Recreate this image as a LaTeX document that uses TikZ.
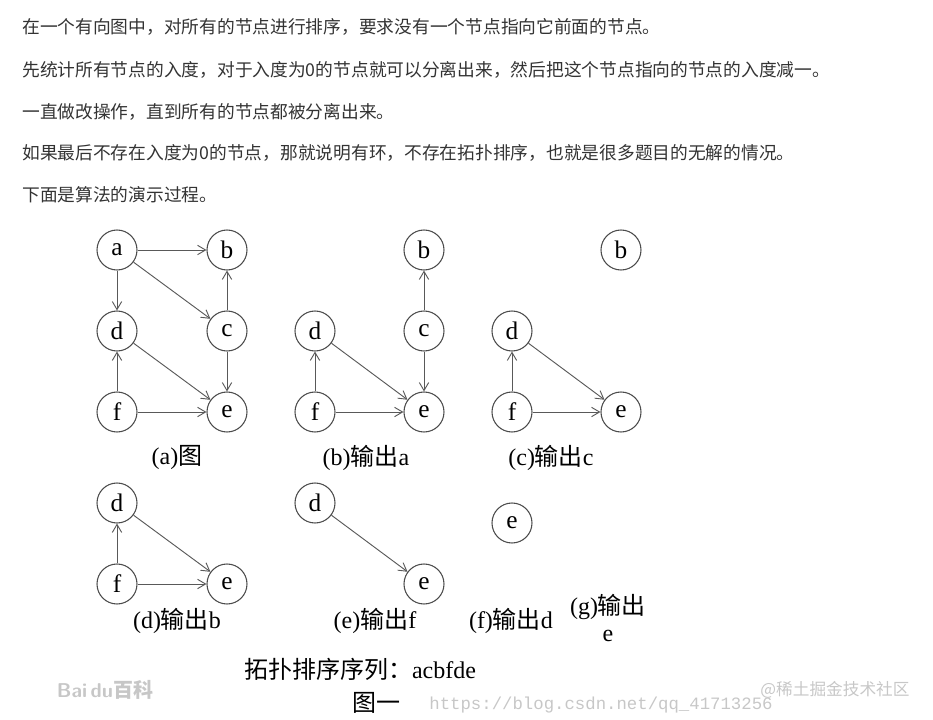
\documentclass[tikz,border=0pt]{standalone}
\usepackage{fontspec}
\setmainfont{Liberation Serif}
\setmonofont{Liberation Mono}
\newfontfamily\cjk{Noto Sans CJK SC}
\usetikzlibrary{arrows.meta}

\begin{document}
\begin{tikzpicture}[x=0.75pt, y=-0.75pt,
	vertex/.style={draw=black!70, circle, line width=0.8pt, minimum size=30pt, inner sep=0pt, font=\fontsize{19}{19}\selectfont},
	edge/.style={draw=black!65, line width=0.7pt, -{Straight Barb[length=6pt,width=7pt]}},
	caption/.style={font=\fontsize{18}{20}\selectfont},
	para/.style={anchor=west, inner sep=0pt, text=black!80, font=\cjk\fontsize{13.3}{13.3}\selectfont},
	wmark/.style={text=black!22}]
	\useasboundingbox (0,0) rectangle (933,720);
	%text
	\foreach \y/\ptext in {
		27/在一个有向图中，对所有的节点进行排序，要求没有一个节点指向它前面的节点。,
		70/先统计所有节点的入度，对于入度为0的节点就可以分离出来，然后把这个节点指向的节点的入度减一。,
		112/一直做改操作，直到所有的节点都被分离出来。,
		153/如果最后不存在入度为0的节点，那就说明有环，不存在拓扑排序，也就是很多题目的无解的情况。,
		195/下面是算法的演示过程。
	}
	\node[para] (p\y) at (22,\y) {\ptext};
	%(a)
	\foreach \n/\x/\y in {a/117/250, b/227/250, d/117/331, c/227/331, f/117/412, e/227/412}
	\node[vertex] (A\n) at (\x,\y) {\n};
	\draw[edge] (Aa) -- (Ab);
	\draw[edge] (Aa) -- (Ad);
	\draw[edge] (Aa) -- (Ac);
	\draw[edge] (Ac) -- (Ab);
	\draw[edge] (Ac) -- (Ae);
	\draw[edge] (Ad) -- (Ae);
	\draw[edge] (Af) -- (Ad);
	\draw[edge] (Af) -- (Ae);
	\node[caption] (capA) at (177,458) {(a){\cjk 图}};
	%(b)
	\foreach \n/\x/\y in {b/424/250, d/315/331, c/424/331, f/315/412, e/424/412}
	\node[vertex] (B\n) at (\x,\y) {\n};
	\draw[edge] (Bc) -- (Bb);
	\draw[edge] (Bc) -- (Be);
	\draw[edge] (Bd) -- (Be);
	\draw[edge] (Bf) -- (Bd);
	\draw[edge] (Bf) -- (Be);
	\node[caption] (capB) at (366,458) {(b){\cjk 输出}a};
	%(c)
	\foreach \n/\x/\y in {b/621/250, d/512/331, f/512/412, e/621/412}
	\node[vertex] (C\n) at (\x,\y) {\n};
	\draw[edge] (Cd) -- (Ce);
	\draw[edge] (Cf) -- (Cd);
	\draw[edge] (Cf) -- (Ce);
	\node[caption] (capC) at (551,458) {(c){\cjk 输出}c};
	%(d)
	\foreach \n/\x/\y in {d/117/503, f/117/584, e/227/584}
	\node[vertex] (D\n) at (\x,\y) {\n};
	\draw[edge] (Dd) -- (De);
	\draw[edge] (Df) -- (Dd);
	\draw[edge] (Df) -- (De);
	\node[caption] (capD) at (177,621) {(d){\cjk 输出}b};
	%(e)
	\foreach \n/\x/\y in {d/315/503, e/424/584}
	\node[vertex] (E\n) at (\x,\y) {\n};
	\draw[edge] (Ed) -- (Ee);
	\node[caption] (capE) at (375,621) {(e){\cjk 输出}f};
	%(f)
	\node[vertex] (Fe) at (512,523) {e};
	\node[caption] (capF) at (511,621) {(f){\cjk 输出}d};
	%(g)
	\node[caption] (capG) at (608,607) {(g){\cjk 输出}};
	\node[caption] (capG2) at (608,636) {e};
	%result
	\node[caption] (seq) at (360,669) {{\cjk 拓扑排序序列：}acbfde};
	\node[caption] (fig) at (376,703) {\cjk 图一};
	%watermarks
	\node[wmark, font=\sffamily\bfseries\fontsize{15}{15}\selectfont] (bd) at (105,690) {Bai\,du{\cjk 百科}};
	\node[wmark, font=\ttfamily\fontsize{13}{13}\selectfont] (url) at (601,705) {https://blog.csdn.net/qq\_41713256};
	\node[wmark, font=\cjk\fontsize{12.5}{12.5}\selectfont] (jj) at (835,690) {@稀土掘金技术社区};
\end{tikzpicture}
\end{document}
